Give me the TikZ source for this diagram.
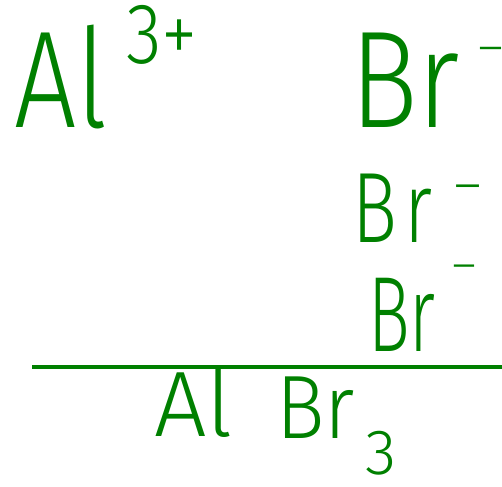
\documentclass[tikz,border=0pt]{standalone}
\usepackage{fontspec}
\newfontfamily\hand{Fira Sans}[UprightFont={* Light}]
\definecolor{ink}{RGB}{0,128,0}
\begin{document}
\begin{tikzpicture}[x=1pt,y=-1pt,
  txt/.style={inner sep=0pt,anchor=base west,text=ink},
  rule/.style={draw=ink,line width=3.5pt}]
\useasboundingbox (0,0) rectangle (502,486);
% Al^{3+}
\node[txt,xscale=0.8] (al) at (14,128) {\hand\fontsize{138}{138}\selectfont Al};
\node[txt,xscale=0.85] (al3) at (126,64) {\hand\fontsize{86}{86}\selectfont 3+};
% Br^- (1)
\node[txt,xscale=0.82] (br1) at (350,128) {\hand\fontsize{138}{138}\selectfont Br};
\node[txt] (m1) at (478,64) {\hand\fontsize{48}{48}\selectfont –};
% Br^- (2)
\node[txt,xscale=0.75] (br2) at (352,242) {\hand\fontsize{100}{100}\selectfont B\kern0.1em r};
\node[txt] (m2) at (454,202) {\hand\fontsize{52}{52}\selectfont –};
% Br^- (3)
\node[txt,xscale=0.65] (br3) at (368,351) {\hand\fontsize{107}{107}\selectfont Br};
\node[txt] (m3) at (452,280) {\hand\fontsize{46}{46}\selectfont –};
% rule
\coordinate (l1) at (32,367);
\coordinate (l2) at (502,367);
\draw[rule] (l1) -- (l2);
% AlBr3
\node[txt] (al2) at (154,436) {\hand\fontsize{93}{93}\selectfont Al};
\node[txt,xscale=0.9] (br4) at (276,438) {\hand\fontsize{90}{90}\selectfont Br};
\node[txt] (s3) at (365,474) {\hand\fontsize{64}{64}\selectfont 3};
\end{tikzpicture}
\end{document}
